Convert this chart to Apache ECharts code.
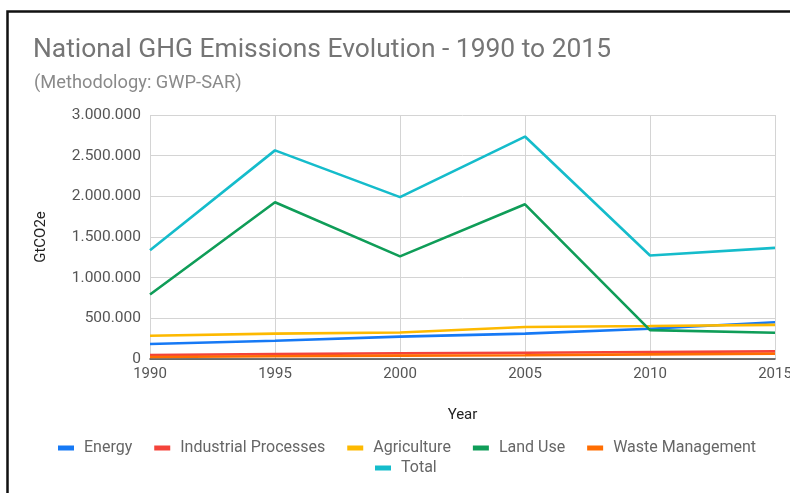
<!DOCTYPE html>
<html>
<head>
<meta charset="utf-8">
<script src="https://cdn.jsdelivr.net/npm/echarts@6/dist/echarts.min.js"></script>
<style>
html,body{margin:0;padding:0;background:#fff;overflow:hidden;}
#chart{width:790px;height:493px;}
</style>
</head>
<body>
<div id="chart"></div>
<script>
const years = ['1990', '1995', '2000', '2005', '2010', '2015'];
const energy = [185000, 224000, 275000, 312000, 372000, 452000];
const industrial = [50000, 60000, 70000, 77000, 86000, 94000];
const agriculture = [286000, 312000, 325000, 394000, 405000, 420000];
const landUse = [793000, 1928000, 1262000, 1902000, 355000, 322000];
const waste = [25000, 34000, 41000, 47000, 57000, 65000];
const total = [1338000, 2565000, 1990000, 2735000, 1272000, 1366000];
const yTicks = [0, 500000, 1000000, 1500000, 2000000, 2500000, 3000000];

const seriesNames = ['Energy', 'Industrial Processes', 'Agriculture', 'Land Use', 'Waste Management', 'Total'];
const seriesData = [energy, industrial, agriculture, landUse, waste, total];
const colors = ['#1679f5', '#f4433a', '#fdb900', '#0f9d58', '#ff6d01', '#15bccb'];

const fmt = v => String(v).replace(/\B(?=(\d{3})+(?!\d))/g, '.');
const font = 'Roboto, "Noto Sans", sans-serif';

const chart = echarts.init(document.getElementById('chart'), null, {renderer: 'canvas'});
chart.setOption({
  animation: false,
  color: colors,
  title: [
    {text: 'National GHG Emissions Evolution - 1990 to 2015', left: 33, top: 37, padding: 0,
     textStyle: {fontFamily: font, fontSize: 26.4, fontWeight: 'normal', color: '#757575'}},
    {text: '(Methodology: GWP-SAR)', left: 34, top: 74, padding: 0,
     textStyle: {fontFamily: font, fontSize: 18.3, fontWeight: 'normal', color: '#8a8a8a'}}
  ],
  legend: [
    {data: seriesNames.slice(0, 5), left: 58, top: 440, padding: 0, icon: 'rect', itemWidth: 16, itemHeight: 5, itemGap: 22,
     textStyle: {fontFamily: font, fontSize: 16, color: '#666', padding: [0, 0, 0, 5]}},
    {data: ['Total'], left: 375, top: 460, padding: 0, icon: 'rect', itemWidth: 16, itemHeight: 5,
     textStyle: {fontFamily: font, fontSize: 16, color: '#666', padding: [0, 0, 0, 5]}}
  ],
  grid: {left: 150, right: 15, top: 115, bottom: 134, outerBoundsMode: 'none', containLabel: false},
  xAxis: {
    type: 'category', data: years, boundaryGap: false,
    name: 'Year', nameLocation: 'middle', nameGap: 49,
    nameTextStyle: {fontFamily: font, fontSize: 15, color: '#222'},
    axisLine: {show: true, lineStyle: {color: '#444', width: 1.5}},
    axisTick: {show: false},
    axisLabel: {fontFamily: font, fontSize: 15, color: '#555', margin: 8},
    splitLine: {show: true, lineStyle: {color: '#d4d4d4', width: 1}}
  },
  yAxis: {
    type: 'value', min: 0, max: 3000000, interval: 500000,
    name: 'GtCO2e', nameLocation: 'middle', nameGap: 101, nameRotate: 90,
    nameTextStyle: {fontFamily: font, fontSize: 15, color: '#222'},
    axisLine: {show: false}, axisTick: {show: false},
    axisLabel: {fontFamily: font, fontSize: 15.5, color: '#555', margin: 9,
      formatter: v => yTicks.includes(v) ? fmt(v) : ''},
    splitLine: {show: true, lineStyle: {color: '#d4d4d4', width: 1}}
  },
  series: seriesNames.map((n, i) => ({
    name: n, type: 'line', data: seriesData[i], symbol: 'none', showSymbol: false,
    lineStyle: {width: 2.6, color: colors[i]}, itemStyle: {color: colors[i]}, z: 2 + i
  })),
  graphic: [{
    type: 'rect', shape: {x: 7.5, y: 11.5, width: 900, height: 700},
    style: {fill: 'none', stroke: '#111', lineWidth: 2.5}, silent: true, z: 100
  }]
});
</script>
</body>
</html>
